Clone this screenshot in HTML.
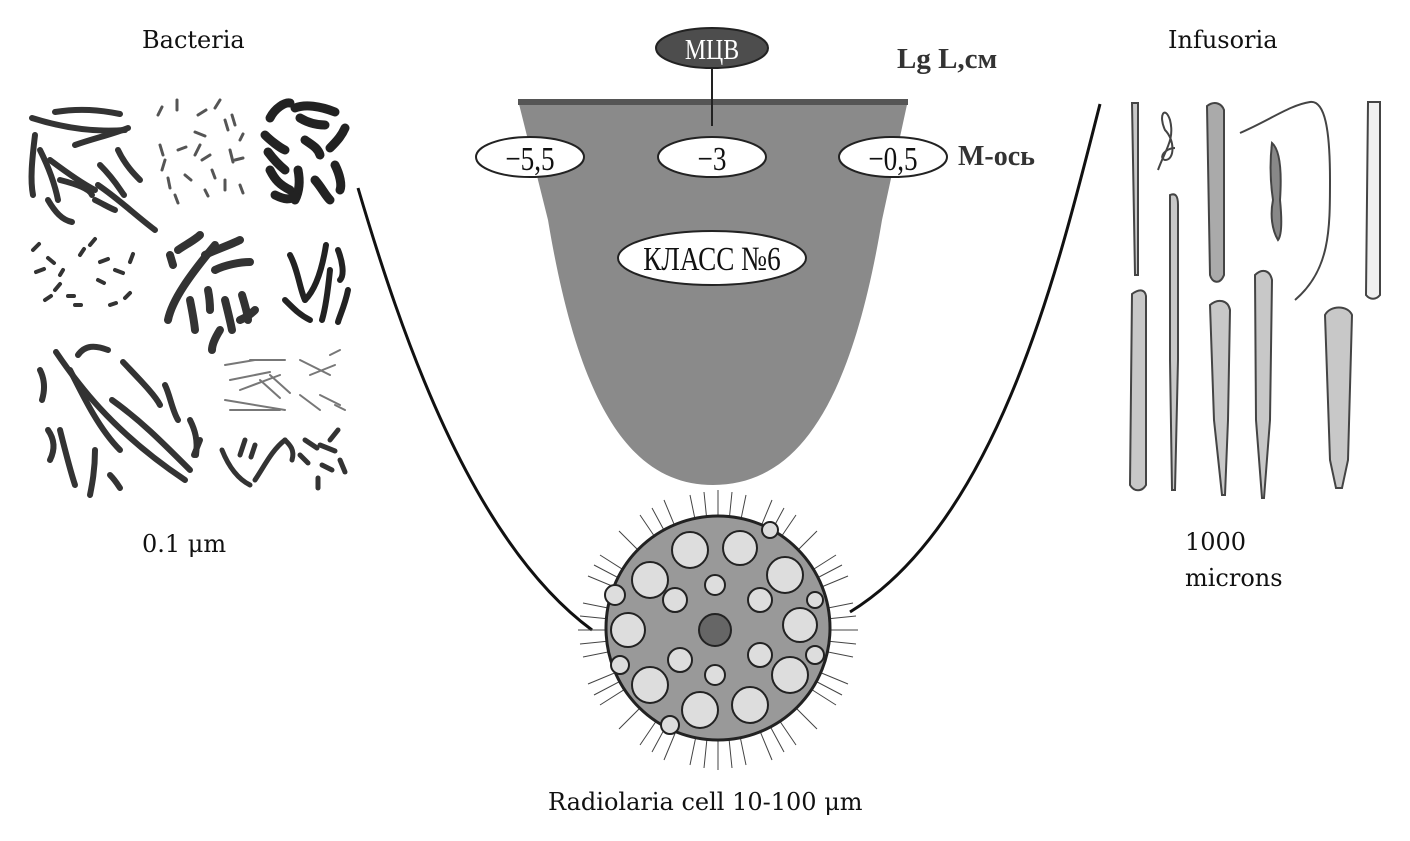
<!DOCTYPE html>
<html><head><meta charset="utf-8"><style>
html,body{margin:0;padding:0;background:#fff;}
svg{display:block}
.t{font-family:"DejaVu Serif","Liberation Serif",serif;font-size:24px;fill:#111}
.n{font-family:"Liberation Serif",serif;font-size:34px;fill:#111}
</style></head><body>
<svg width="1410" height="841" viewBox="0 0 1410 841" xmlns="http://www.w3.org/2000/svg">
<text class="t" x="142" y="48">Bacteria</text>
<text class="t" x="1168" y="48">Infusoria</text>
<text class="t" x="142" y="552">0.1 μm</text>
<text class="t" x="1185" y="550">1000</text>
<text class="t" x="1185" y="586">microns</text>
<text class="t" x="548" y="810">Radiolaria cell 10-100 μm</text>

<path d="M358,188 C400,330 470,540 592,630" fill="none" stroke="#111" stroke-width="3"/>
<path d="M1100,104 C1060,260 1000,520 850,612" fill="none" stroke="#111" stroke-width="3"/>

<path d="M518,100 L908,100 L882,220 C852,400 800,485 713,485 C628,485 578,400 548,220 Z" fill="#8a8a8a"/>
<rect x="518" y="99" width="390" height="6" fill="#555"/>
<line x1="712" y1="68" x2="712" y2="126" stroke="#222" stroke-width="2"/>
<ellipse cx="712" cy="48" rx="56" ry="20" fill="#4d4d4d" stroke="#222" stroke-width="2"/>
<text x="712" y="59" text-anchor="middle" font-family="Liberation Serif,serif" font-size="28" fill="#fff" transform="translate(712 0) scale(0.85 1) translate(-712 0)">МЦВ</text>
<text x="897" y="68" font-family="Liberation Serif,serif" font-size="29" font-weight="bold" fill="#333">Lg L,см</text>
<text x="958" y="165" font-family="Liberation Serif,serif" font-size="28" font-weight="bold" fill="#333">М-ось</text>
<g fill="#fff" stroke="#222" stroke-width="2">
<ellipse cx="530" cy="157" rx="54" ry="20"/>
<ellipse cx="712" cy="157" rx="54" ry="20"/>
<ellipse cx="893" cy="157" rx="54" ry="20"/>
<ellipse cx="712" cy="258" rx="94" ry="27"/>
</g>
<g transform="translate(0 0)">
<text class="n" x="530" y="170" text-anchor="middle" transform="translate(530 0) scale(0.8 1) translate(-530 0)">−5,5</text>
<text class="n" x="712" y="170" text-anchor="middle" transform="translate(712 0) scale(0.8 1) translate(-712 0)">−3</text>
<text class="n" x="893" y="170" text-anchor="middle" transform="translate(893 0) scale(0.8 1) translate(-893 0)">−0,5</text>
<text class="n" x="712" y="270" text-anchor="middle" font-size="30" transform="translate(712 0) scale(0.8 1) translate(-712 0)">КЛАСС №6</text>
</g>

<g stroke-linecap="round" fill="none">
<g stroke="#333" stroke-width="6">
<path d="M32,118 C70,130 100,132 125,130"/><path d="M55,112 C80,108 100,110 120,114"/>
<path d="M75,145 C95,138 110,135 128,128"/><path d="M35,135 C32,160 30,180 33,195"/>
<path d="M40,150 C50,170 55,185 58,200"/><path d="M48,200 C55,212 62,220 72,222"/>
<path d="M50,160 C70,175 85,185 95,190"/><path d="M60,180 C80,185 90,190 92,195"/>
<path d="M100,165 C115,180 120,190 124,195"/><path d="M98,185 C120,200 135,215 155,230"/>
<path d="M95,200 C105,205 110,208 115,210"/><path d="M118,150 C125,165 135,175 140,180"/>
</g>
<g stroke="#555" stroke-width="3">
<path d="M158,115 l4,-8"/><path d="M177,110 l0,-10"/><path d="M198,115 l8,-5"/><path d="M215,108 l5,-8"/>
<path d="M225,120 l3,10"/><path d="M232,115 l3,10"/><path d="M195,132 l10,4"/><path d="M200,145 l-5,10"/>
<path d="M210,155 l-8,5"/><path d="M230,150 l3,12"/><path d="M240,140 l3,-6"/><path d="M160,145 l3,10"/>
<path d="M165,160 l-3,10"/><path d="M168,178 l2,10"/><path d="M178,150 l8,-3"/><path d="M212,170 l3,8"/>
<path d="M225,180 l0,10"/><path d="M235,160 l8,-2"/><path d="M205,190 l3,6"/><path d="M240,185 l3,8"/>
<path d="M185,175 l6,5"/><path d="M175,195 l3,8"/>
</g>
<g stroke="#222" stroke-width="9">
<path d="M270,118 C275,108 285,102 290,103"/><path d="M295,108 C305,104 320,106 335,112"/>
<path d="M300,118 C310,124 320,125 325,125"/><path d="M265,135 C270,140 280,148 285,150"/>
<path d="M268,152 C274,160 280,166 285,170"/><path d="M305,140 C312,145 318,148 320,155"/>
<path d="M330,148 C338,140 342,135 345,128"/><path d="M270,170 C275,180 280,185 290,190"/>
<path d="M298,170 C300,180 300,190 295,200"/><path d="M315,180 C322,188 325,195 330,200"/>
<path d="M335,165 C340,175 342,185 340,190"/><path d="M275,195 C285,200 290,200 295,196"/>
</g>
<g stroke="#333" stroke-width="4">
<path d="M33,250 l6,-6"/><path d="M48,258 l6,5"/><path d="M36,272 l8,-3"/><path d="M55,290 l5,-6"/>
<path d="M68,296 l6,0"/><path d="M45,300 l6,-4"/><path d="M80,255 l4,-6"/><path d="M90,245 l5,-6"/>
<path d="M100,262 l8,-3"/><path d="M98,280 l6,3"/><path d="M110,305 l6,-2"/><path d="M125,298 l5,-5"/>
<path d="M115,270 l8,3"/><path d="M130,262 l3,-8"/><path d="M60,275 l3,-5"/><path d="M75,305 l6,0"/>
</g>
<g stroke="#333" stroke-width="8">
<path d="M168,320 C172,300 190,275 215,245"/><path d="M178,250 C185,245 195,240 200,235"/>
<path d="M205,255 C215,250 230,245 240,240"/><path d="M215,270 C225,265 240,262 250,262"/>
<path d="M170,255 l3,10"/><path d="M190,300 C192,310 194,320 195,330"/><path d="M208,290 C210,300 210,305 210,310"/>
<path d="M225,300 C228,312 230,320 232,330"/><path d="M242,295 C245,305 248,315 248,320"/>
<path d="M220,330 C215,338 212,345 212,350"/><path d="M240,320 C245,318 250,315 255,310"/>
</g>
<g stroke="#222" stroke-width="6">
<path d="M326,245 C322,270 315,290 305,300"/><path d="M338,250 C342,260 345,275 340,280"/>
<path d="M330,270 C328,290 325,310 322,320"/><path d="M290,255 C298,270 300,290 305,300"/>
<path d="M285,300 C295,310 300,315 310,320"/><path d="M348,290 C345,305 340,315 338,322"/>
</g>
<g stroke="#333" stroke-width="6">
<path d="M56,352 C75,380 110,430 185,480"/><path d="M70,370 C85,400 100,430 120,450"/>
<path d="M78,355 C85,345 95,345 108,350"/><path d="M123,362 C140,380 155,395 160,405"/>
<path d="M112,400 C140,420 160,440 190,470"/><path d="M165,385 C170,395 172,410 178,420"/>
<path d="M40,370 C45,380 45,390 42,400"/><path d="M48,430 C55,440 55,450 50,460"/>
<path d="M60,430 C65,450 70,470 75,485"/><path d="M95,450 C95,470 92,485 90,495"/>
<path d="M110,475 C115,480 118,485 120,488"/><path d="M190,420 C195,430 198,440 196,455"/>
<path d="M200,440 l-6,15"/>
</g>
<g stroke="#777" stroke-width="2">
<path d="M225,365 l30,-5"/><path d="M250,360 l35,0"/><path d="M230,380 l40,-8"/><path d="M240,390 l40,-15"/>
<path d="M260,380 l20,18"/><path d="M270,375 l20,18"/><path d="M225,400 l60,10"/><path d="M230,410 l50,0"/>
<path d="M300,360 l30,15"/><path d="M310,375 l25,-10"/><path d="M300,395 l20,15"/><path d="M320,395 l20,10"/>
<path d="M330,355 l10,-5"/><path d="M335,405 l10,5"/>
</g>
<g stroke="#333" stroke-width="5">
<path d="M222,450 C230,470 240,480 250,485"/><path d="M245,440 l-5,15"/><path d="M255,445 l-4,12"/>
<path d="M255,480 C265,465 272,450 285,440"/><path d="M285,440 C290,445 295,450 292,460"/>
<path d="M305,440 l12,8"/><path d="M320,445 l15,6"/><path d="M330,440 l8,-10"/><path d="M300,455 l8,8"/>
<path d="M322,465 l10,5"/><path d="M340,460 l5,12"/><path d="M318,478 l0,10"/>
</g>
</g>

<g stroke="#444" fill="#c8c8c8" stroke-width="2">
<path d="M1132,103 L1138,103 L1138,275 L1135,275 Z"/>
<path d="M1207,106 C1215,100 1222,104 1224,110 L1224,275 C1220,285 1212,283 1210,275 Z" fill="#aaa"/>
<path d="M1272,143 C1280,150 1282,170 1280,200 C1282,220 1282,235 1278,240 C1272,230 1270,215 1273,200 C1270,180 1270,160 1272,143Z" fill="#888"/>
<path d="M1368,102 L1380,102 L1380,295 C1376,300 1370,300 1366,295 Z" fill="#f0f0f0"/>
<path d="M1132,294 C1140,288 1145,290 1146,296 L1146,485 C1142,492 1134,492 1130,485 Z"/>
<path d="M1170,195 C1175,193 1178,195 1178,205 L1178,360 L1175,490 L1172,490 L1170,360 Z"/>
<path d="M1210,305 C1218,298 1228,300 1230,310 L1228,420 L1225,495 L1222,495 L1214,420 Z"/>
<path d="M1255,275 C1262,268 1270,270 1272,280 L1270,420 L1264,498 L1262,498 L1256,420 Z"/>
<path d="M1325,315 C1330,305 1348,305 1352,315 L1348,460 L1342,488 L1336,488 L1330,460 Z"/>
</g>
<g fill="none" stroke="#444" stroke-width="2">
<path d="M1240,133 C1270,120 1290,105 1310,102 C1325,100 1330,130 1330,180 C1330,230 1330,270 1295,300"/>
<path d="M1158,170 C1165,150 1175,140 1170,120 C1165,105 1158,115 1165,130 C1175,140 1175,160 1165,160 C1158,158 1165,148 1175,148"/>
</g>

<g>
<g stroke="#444" stroke-width="1">
<path d="M718,490 L718,770 M578,630 L858,630 M619,531 L817,729 M619,729 L817,531 M664,500 L772,760 M772,500 L664,760 M588,576 L848,684 M588,684 L848,576 M690,495 L746,765 M746,495 L690,765 M583,603 L853,657 M583,657 L853,603 M640,515 L796,745 M796,515 L640,745 M600,555 L836,705 M600,705 L836,555 M704,492 L732,768 M732,492 L704,768 M580,616 L856,644 M580,644 L856,616 M652,508 L784,752 M784,508 L652,752 M594,565 L842,695 M594,695 L842,565"/>
</g>
<circle cx="718" cy="628" r="112" fill="#999" stroke="#222" stroke-width="3"/>
<g fill="#ddd" stroke="#222" stroke-width="2">
<circle cx="650" cy="580" r="18"/><circle cx="690" cy="550" r="18"/><circle cx="740" cy="548" r="17"/>
<circle cx="785" cy="575" r="18"/><circle cx="800" cy="625" r="17"/><circle cx="790" cy="675" r="18"/>
<circle cx="750" cy="705" r="18"/><circle cx="700" cy="710" r="18"/><circle cx="650" cy="685" r="18"/>
<circle cx="628" cy="630" r="17"/><circle cx="675" cy="600" r="12"/><circle cx="760" cy="600" r="12"/>
<circle cx="760" cy="655" r="12"/><circle cx="680" cy="660" r="12"/><circle cx="615" cy="595" r="10"/>
<circle cx="815" cy="600" r="8"/><circle cx="715" cy="585" r="10"/><circle cx="715" cy="675" r="10"/>
<circle cx="620" cy="665" r="9"/><circle cx="815" cy="655" r="9"/><circle cx="670" cy="725" r="9"/><circle cx="770" cy="530" r="8"/>
</g>
<circle cx="715" cy="630" r="16" fill="#666" stroke="#222" stroke-width="2"/>
</g>
</svg>
</body></html>
